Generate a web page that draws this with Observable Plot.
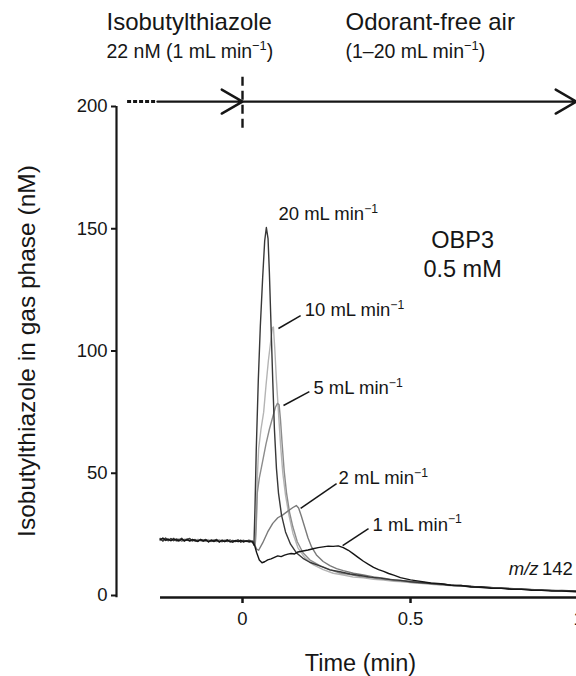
<!DOCTYPE html>
<html><head><meta charset="utf-8">
<script src="https://cdn.jsdelivr.net/npm/d3@7"></script>
<script src="https://cdn.jsdelivr.net/npm/@observablehq/plot@0.6"></script>
<style>html,body{margin:0;padding:0;background:#fff;overflow:hidden}</style>
</head><body><div id="chart"></div>
<script>
// ---- data ----
const seriesNames = ["10 mL min⁻¹", "5 mL min⁻¹", "2 mL min⁻¹", "20 mL min⁻¹", "1 mL min⁻¹"];
const seriesColors = ["#b4b4b4", "#8c8c8c", "#7a7a7a", "#383838", "#151515"];

// pre-switch baseline (time in min) shared by all series
const baseTimes = [-0.245,-0.237,-0.229,-0.221,-0.213,-0.205,-0.197,-0.189,-0.181,-0.173,-0.165,-0.157,-0.149,-0.141,-0.133,-0.125,-0.117,-0.109,-0.101,-0.093,-0.085,-0.077,-0.069,-0.061,-0.053,-0.045,-0.037,-0.029,-0.021,-0.013,-0.005,0.003,0.011,0.019,0.025];
const base20 = [23.2,22.3,23.5,22.6,23.3,22.4,23.1,22.7,23.4,22.2,22.9,23.3,22.3,22.8,22.1,23.0,22.5,22.9,22.0,22.7,22.4,22.9,21.9,22.6,22.3,22.8,21.9,22.5,22.2,22.7,21.8,22.4,22.2,22.5,22.1];
const base10 = [22.5,23.4,22.4,23.1,22.6,23.5,22.5,22.9,22.2,23.1,22.6,22.4,23.0,22.2,22.9,22.4,22.8,22.1,22.9,22.3,22.6,22.0,22.8,22.2,22.7,22.0,22.6,22.3,21.9,22.6,22.2,22.7,22.0,22.4,22.3];
const base5  = [23.4,22.7,23.0,22.3,23.2,22.8,22.5,23.1,22.2,22.7,23.2,22.5,22.8,22.2,22.9,22.5,22.2,22.8,22.4,22.1,22.7,22.3,22.6,21.9,22.5,22.1,22.7,22.0,22.4,22.6,22.1,22.5,22.2,22.6,22.4];
const base2  = [22.9,22.3,23.2,22.9,22.4,23.0,22.3,22.7,23.1,22.5,22.9,22.3,22.6,22.9,22.1,22.7,22.3,22.8,22.2,22.5,22.0,22.7,22.3,22.6,22.1,22.4,22.7,22.0,22.5,22.2,22.6,21.9,22.4,22.3,22.2];
const base1  = [22.8,23.5,22.6,23.0,22.4,23.2,22.7,22.3,23.0,22.5,22.8,22.3,22.9,22.4,22.2,22.8,22.3,22.6,21.9,22.5,22.2,22.6,21.9,22.4,22.0,22.5,22.1,21.8,22.4,22.0,22.5,21.9,22.3,21.9,22.1];

// after the switch to odorant-free air: [time, nM]
const flow20 = [[0.030,22.0],[0.034,20.5],[0.037,35],[0.041,60],[0.047,88],[0.053,110],[0.060,130],[0.066,145],[0.071,150.5],[0.076,146],[0.080,132],[0.085,110],[0.090,88],[0.095,68],[0.101,52],[0.107,42],[0.116,33],[0.128,26],[0.143,21],[0.16,17.5],[0.18,15.2],[0.2,13.6],[0.23,12.1],[0.26,10.5],[0.29,9.7],[0.32,8.8],[0.35,8.2],[0.38,7.5],[0.41,7.1],[0.44,6.5],[0.47,6.2],[0.5,5.6],[0.53,5.3],[0.56,4.9],[0.59,4.7],[0.62,4.2],[0.65,4.1],[0.68,3.7],[0.71,3.6],[0.74,3.2],[0.77,3.1],[0.8,2.7],[0.83,2.7],[0.86,2.4],[0.89,2.3],[0.92,2.0],[0.95,2.1],[0.994,1.8]];
const flow10 = [[0.030,22.2],[0.038,21.2],[0.041,28],[0.044,48],[0.048,60],[0.055,68],[0.063,75],[0.070,86],[0.077,96],[0.084,104],[0.089,109.5],[0.092,109.8],[0.096,101],[0.101,88],[0.107,75],[0.113,62],[0.120,50],[0.128,41],[0.138,33],[0.150,25.5],[0.165,19.5],[0.185,15.5],[0.21,12.6],[0.24,10.6],[0.27,9.1],[0.30,8.4],[0.33,7.5],[0.36,7.2],[0.39,6.6],[0.42,6.3],[0.45,5.8],[0.48,5.6],[0.51,5.1],[0.54,4.9],[0.57,4.5],[0.6,4.3],[0.63,3.9],[0.66,3.8],[0.69,3.4],[0.72,3.3],[0.75,2.9],[0.78,2.9],[0.81,2.5],[0.84,2.5],[0.87,2.2],[0.9,2.2],[0.93,1.9],[0.96,1.9],[0.994,1.6]];
const flow5 = [[0.030,22.4],[0.038,21.0],[0.041,30],[0.044,42],[0.050,48],[0.060,55],[0.070,62],[0.080,68],[0.090,73],[0.098,77],[0.104,78.6],[0.109,78],[0.113,72],[0.118,62],[0.124,51],[0.131,42],[0.140,34],[0.150,28],[0.163,22],[0.18,17.5],[0.2,14.6],[0.23,12.2],[0.26,10.6],[0.29,9.2],[0.32,8.6],[0.35,7.7],[0.38,7.3],[0.41,6.7],[0.44,6.4],[0.47,5.8],[0.5,5.6],[0.53,5.0],[0.56,4.9],[0.59,4.4],[0.62,4.3],[0.65,3.8],[0.68,3.8],[0.71,3.3],[0.74,3.3],[0.77,2.9],[0.8,2.9],[0.83,2.5],[0.86,2.5],[0.89,2.2],[0.92,2.2],[0.95,1.9],[0.994,1.8]];
const flow2 = [[0.030,22.3],[0.036,20.8],[0.042,19.0],[0.048,18.5],[0.06,21.5],[0.075,26],[0.09,29.5],[0.105,31.8],[0.12,33],[0.135,34.5],[0.15,36],[0.16,36.8],[0.167,35.8],[0.175,32.5],[0.185,28],[0.195,23.5],[0.205,20],[0.22,16.6],[0.24,13.9],[0.26,12.2],[0.28,11.0],[0.30,10.2],[0.33,9.1],[0.36,8.4],[0.39,7.6],[0.42,7.1],[0.45,6.4],[0.48,6.1],[0.51,5.5],[0.54,5.3],[0.57,4.8],[0.6,4.6],[0.63,4.1],[0.66,4.0],[0.69,3.6],[0.72,3.5],[0.75,3.1],[0.78,3.0],[0.81,2.7],[0.84,2.6],[0.87,2.3],[0.9,2.3],[0.93,2.0],[0.96,2.0],[0.994,1.7]];
const flow1 = [[0.030,21.8],[0.036,20.5],[0.042,17.6],[0.050,14.5],[0.058,13.4],[0.066,13.8],[0.075,14.6],[0.085,15.0],[0.095,15.6],[0.105,16.2],[0.115,15.9],[0.125,16.5],[0.135,16.9],[0.145,17.2],[0.155,17.0],[0.165,17.8],[0.18,18.2],[0.195,18.6],[0.21,19.1],[0.225,19.6],[0.24,19.9],[0.255,20.2],[0.27,20.1],[0.285,20.3],[0.30,19.6],[0.315,18.5],[0.33,17.0],[0.345,15.5],[0.36,14.0],[0.375,12.7],[0.39,11.5],[0.405,10.6],[0.42,9.9],[0.435,9.0],[0.45,8.3],[0.47,7.3],[0.5,6.4],[0.53,5.8],[0.56,5.1],[0.59,4.8],[0.62,4.2],[0.65,4.1],[0.68,3.5],[0.71,3.4],[0.74,2.9],[0.77,2.9],[0.8,2.5],[0.83,2.5],[0.86,2.1],[0.89,2.1],[0.92,1.8],[0.95,1.8],[0.994,1.5]];

const yTicks = [0, 50, 100, 150, 200];
const xTicks = [0, 0.5, 1];

// ---- build table ----
function build(name, base, flow) {
  return baseTimes.map((t, i) => ({series: name, t, c: base[i]}))
    .concat(flow.map(([t, c]) => ({series: name, t, c})));
}
const rows = [].concat(
  build(seriesNames[0], base10, flow10),
  build(seriesNames[1], base5, flow5),
  build(seriesNames[2], base2, flow2),
  build(seriesNames[3], base20, flow20),
  build(seriesNames[4], base1, flow1)
);

const ink = "#161616";
const lblSize = 18.5;
const chart = Plot.plot({
  width: 576, height: 676,
  marginLeft: 116, marginRight: 0, marginTop: 106, marginBottom: 81,
  style: {fontFamily: "'Liberation Sans', Arial, sans-serif", background: "#fff", color: ink, overflow: "visible"},
  x: {domain: [-0.375, 0.994], axis: null},
  y: {domain: [0, 200], axis: null},
  color: {domain: seriesNames, range: seriesColors},
  marks: [
    // axes
    Plot.ruleX([-0.375], {y1: -0.9, y2: 200, stroke: ink, strokeWidth: 2.2}),
    Plot.axisY(yTicks, {anchor: "left", tickSize: 5, tickPadding: 4, fontSize: 18.5, strokeWidth: 2, label: null, tickFormat: d => String(d), stroke: ink, fill: ink}),
    Plot.ruleY([0], {x1: -0.244, x2: 0.994, dy: 2, stroke: ink, strokeWidth: 2.5}),
    Plot.axisX(xTicks, {anchor: "bottom", dy: 2, tickSize: 6, tickPadding: 8, fontSize: 18.5, strokeWidth: 2.5, label: null, tickFormat: d => String(d), stroke: ink, fill: ink}),
    Plot.text(["Isobutylthiazole in gas phase (nM)"], {frameAnchor: "left", dx: -89, rotate: -90, textAnchor: "middle", lineAnchor: "middle", fontSize: 24.5, fill: ink}),
    Plot.text(["Time (min)"], {frameAnchor: "bottom", dx: 14, dy: 68, textAnchor: "middle", lineAnchor: "middle", fontSize: 23.5, fill: ink}),

    // header
    Plot.text(["Isobutylthiazole"], {frameAnchor: "top-left", dx: -10, dy: -84, textAnchor: "start", lineAnchor: "middle", fontSize: 24, fill: ink}),
    Plot.text(["22 nM (1 mL min⁻¹)"], {frameAnchor: "top-left", dx: -10, dy: -55, textAnchor: "start", lineAnchor: "middle", fontSize: 19.5, fill: ink}),
    Plot.text(["Odorant-free air"], {frameAnchor: "top-left", dx: 229, dy: -84, textAnchor: "start", lineAnchor: "middle", fontSize: 24, fill: ink}),
    Plot.text(["(1–20 mL min⁻¹)"], {frameAnchor: "top-left", dx: 229, dy: -55, textAnchor: "start", lineAnchor: "middle", fontSize: 19.5, fill: ink}),

    // flow arrows
    Plot.ruleY([202], {x1: -0.342, x2: -0.253, stroke: ink, strokeWidth: 3, strokeDasharray: "4,2"}),
    Plot.arrow([0], {x1: -0.253, y1: 202, x2: 0, y2: 202, stroke: ink, strokeWidth: 2.4, headLength: 15}),
    Plot.arrow([0], {x1: 0, y1: 202, x2: 0.994, y2: 202, stroke: ink, strokeWidth: 2.4, headLength: 15}),
    Plot.ruleX([0], {y1: 212, y2: 190, stroke: ink, strokeWidth: 2.4, strokeDasharray: "9,5"}),

    // traces
    Plot.line(rows, {x: "t", y: "c", z: "series", stroke: "series", strokeWidth: 1.4}),

    // curve labels
    Plot.text(["20 mL min⁻¹"], {x: 0.107, y: 156, textAnchor: "start", fontSize: lblSize, fill: ink}),
    Plot.link([0], {x1: 0.107, y1: 109.2, x2: 0.173, y2: 114.5, stroke: ink, strokeWidth: 1.5}),
    Plot.text(["10 mL min⁻¹"], {x: 0.185, y: 116.6, textAnchor: "start", fontSize: lblSize, fill: ink}),
    Plot.link([0], {x1: 0.122, y1: 77.7, x2: 0.199, y2: 83.4, stroke: ink, strokeWidth: 1.5}),
    Plot.text(["5 mL min⁻¹"], {x: 0.211, y: 84.7, textAnchor: "start", fontSize: lblSize, fill: ink}),
    Plot.link([0], {x1: 0.173, y1: 35.6, x2: 0.280, y2: 45.8, stroke: ink, strokeWidth: 1.5}),
    Plot.text(["2 mL min⁻¹"], {x: 0.286, y: 47.9, textAnchor: "start", fontSize: lblSize, fill: ink}),
    Plot.link([0], {x1: 0.298, y1: 20.4, x2: 0.375, y2: 27.4, stroke: ink, strokeWidth: 1.5}),
    Plot.text(["1 mL min⁻¹"], {x: 0.387, y: 29, textAnchor: "start", fontSize: lblSize, fill: ink}),
    Plot.text(["m/z"], {x: 0.881, y: 11, textAnchor: "end", fontSize: lblSize, fontStyle: "italic", fill: ink}),
    Plot.text(["142"], {x: 0.891, y: 11, textAnchor: "start", fontSize: lblSize, fill: ink}),
    Plot.text(["OBP3\n0.5 mM"], {x: 0.655, y: 140, fontSize: 23.5, lineHeight: 1.25, fill: ink})
  ]
});
document.getElementById("chart").append(chart);

// render "⁻¹" as a proper superscript "−1"
const NS = "http://www.w3.org/2000/svg";
chart.querySelectorAll("text").forEach(el => {
  if (el.children.length || !el.textContent.includes("⁻¹")) return;
  const fs = parseFloat(getComputedStyle(el).fontSize);
  const [pre, post] = el.textContent.split("⁻¹");
  el.textContent = pre;
  const sup = document.createElementNS(NS, "tspan");
  sup.setAttribute("font-size", (0.66 * fs).toFixed(2));
  sup.setAttribute("dy", (-0.38 * fs).toFixed(2));
  sup.textContent = "−1";
  el.appendChild(sup);
  if (post) {
    const rest = document.createElementNS(NS, "tspan");
    rest.setAttribute("dy", (0.38 * fs).toFixed(2));
    rest.textContent = post;
    el.appendChild(rest);
  }
});
</script>
</body></html>
